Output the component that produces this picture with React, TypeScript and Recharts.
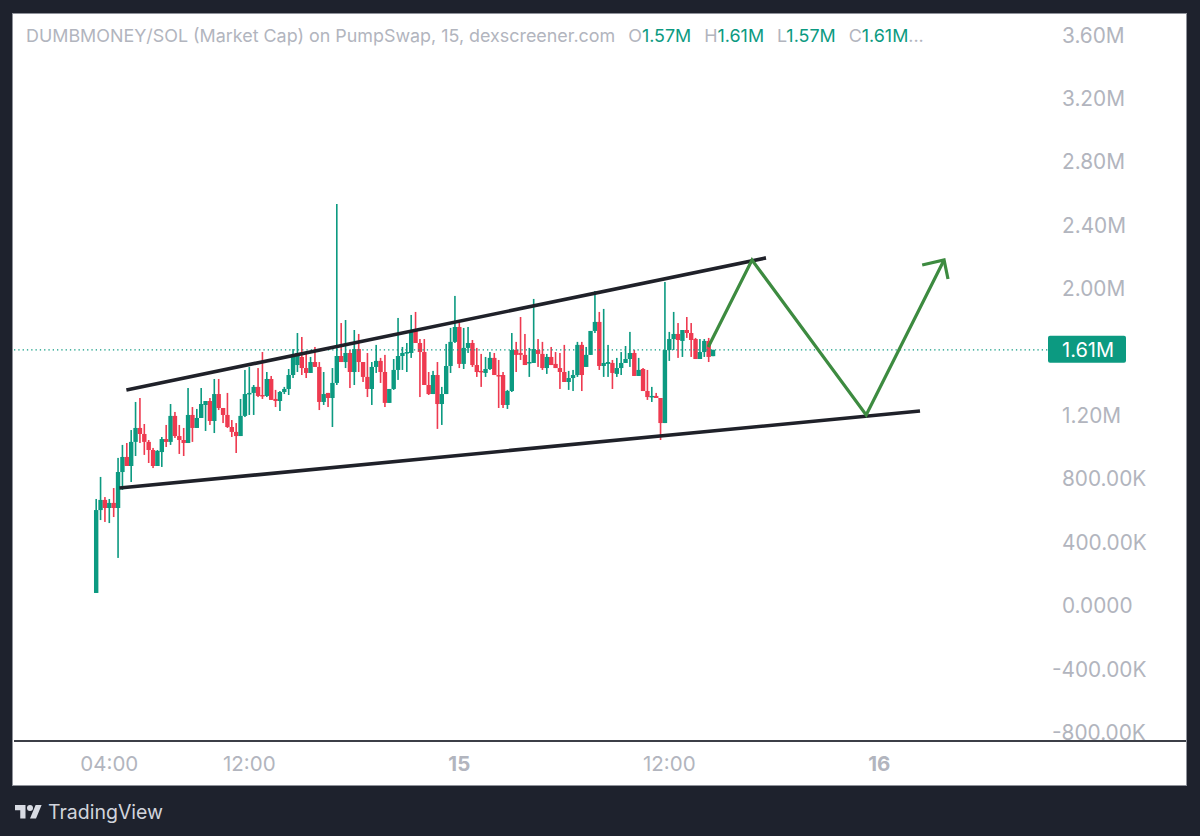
import React from 'react';
import { ComposedChart, Bar, Line, XAxis, YAxis, ReferenceLine } from 'recharts';

// Candle values in millions, 15 minute bars
const opens = [
  0.076, 0.599, 0.663, 0.612, 0.644, 0.612, 0.839, 0.934, 0.877, 1.029,
  1.117, 1.079, 1.029, 0.978, 0.877, 0.965, 1.047, 1.029, 1.193, 1.066,
  1.041, 1.022, 1.199, 1.117, 1.180, 1.262, 1.287, 1.161, 1.331, 1.243,
  1.199, 1.123, 1.092, 1.066, 1.193, 1.331, 1.338, 1.376, 1.325, 1.319,
  1.426, 1.300, 1.287, 1.344, 1.363, 1.451, 1.514, 1.565, 1.495, 1.464,
  1.533, 1.502, 1.281, 1.338, 1.306, 1.401, 1.571, 1.533, 1.590, 1.470,
  1.615, 1.533, 1.439, 1.363, 1.502, 1.540, 1.470, 1.275, 1.363, 1.483,
  1.571, 1.590, 1.590, 1.729, 1.653, 1.596, 1.388, 1.331, 1.451, 1.268,
  1.331, 1.508, 1.660, 1.754, 1.521, 1.622, 1.653, 1.514, 1.477, 1.464,
  1.489, 1.559, 1.451, 1.451, 1.262, 1.350, 1.609, 1.590, 1.578, 1.527,
  1.527, 1.609, 1.584, 1.495, 1.565, 1.521, 1.495, 1.470, 1.407, 1.432,
  1.451, 1.641, 1.502, 1.578, 1.729, 1.786, 1.508, 1.521, 1.527, 1.458,
  1.495, 1.527, 1.552, 1.590, 1.445, 1.489, 1.350, 1.312, 1.319, 1.306,
  1.148, 1.609, 1.678, 1.710, 1.666, 1.735, 1.716, 1.678, 1.552, 1.596,
  1.666, 1.570,
];
const closes = [
  0.599, 0.663, 0.612, 0.644, 0.612, 0.839, 0.934, 0.877, 1.029, 1.117,
  1.079, 1.029, 0.978, 0.877, 0.972, 1.047, 1.029, 1.193, 1.066, 1.041,
  1.022, 1.199, 1.117, 1.180, 1.268, 1.287, 1.161, 1.331, 1.243, 1.199,
  1.123, 1.092, 1.066, 1.193, 1.331, 1.338, 1.376, 1.319, 1.319, 1.426,
  1.294, 1.287, 1.344, 1.363, 1.451, 1.571, 1.590, 1.495, 1.464, 1.533,
  1.502, 1.281, 1.331, 1.306, 1.401, 1.571, 1.533, 1.590, 1.470, 1.615,
  1.533, 1.439, 1.363, 1.502, 1.540, 1.470, 1.275, 1.363, 1.483, 1.571,
  1.590, 1.596, 1.729, 1.653, 1.596, 1.388, 1.331, 1.451, 1.268, 1.331,
  1.508, 1.660, 1.754, 1.521, 1.622, 1.653, 1.514, 1.470, 1.470, 1.489,
  1.559, 1.451, 1.445, 1.262, 1.350, 1.609, 1.578, 1.578, 1.514, 1.533,
  1.615, 1.584, 1.495, 1.565, 1.514, 1.495, 1.470, 1.407, 1.432, 1.451,
  1.641, 1.451, 1.578, 1.729, 1.786, 1.508, 1.527, 1.533, 1.464, 1.495,
  1.527, 1.552, 1.590, 1.445, 1.483, 1.350, 1.312, 1.319, 1.306, 1.148,
  1.609, 1.678, 1.710, 1.672, 1.735, 1.716, 1.672, 1.552, 1.596, 1.666,
  1.565, 1.610,
];
const highs = [
  0.669, 0.808, 0.681, 0.669, 0.738, 0.928, 1.010, 1.022, 1.104, 1.281,
  1.306, 1.142, 1.041, 0.991, 0.978, 1.060, 1.136, 1.268, 1.218, 1.136,
  1.117, 1.369, 1.249, 1.237, 1.369, 1.287, 1.306, 1.426, 1.426, 1.243,
  1.338, 1.167, 1.148, 1.300, 1.483, 1.502, 1.388, 1.495, 1.596, 1.470,
  1.445, 1.357, 1.350, 1.376, 1.489, 1.615, 1.716, 1.691, 1.590, 1.565,
  1.628, 1.533, 1.470, 1.338, 1.495, 2.530, 1.779, 1.798, 1.609, 1.735,
  1.710, 1.533, 1.590, 1.533, 1.641, 1.559, 1.578, 1.363, 1.552, 1.811,
  1.628, 1.653, 1.830, 1.849, 1.678, 1.678, 1.470, 1.477, 1.533, 1.376,
  1.647, 1.748, 1.950, 1.779, 1.748, 1.754, 1.672, 1.622, 1.584, 1.565,
  1.596, 1.590, 1.546, 1.470, 1.357, 1.716, 1.660, 1.817, 1.710, 1.622,
  1.931, 1.678, 1.660, 1.584, 1.628, 1.596, 1.590, 1.641, 1.477, 1.483,
  1.660, 1.660, 1.628, 1.729, 1.981, 1.849, 1.868, 1.641, 1.546, 1.559,
  1.596, 1.634, 1.723, 1.609, 1.559, 1.495, 1.483, 1.376, 1.338, 1.306,
  2.038, 1.723, 1.849, 1.779, 1.735, 1.817, 1.779, 1.685, 1.678, 1.678,
  1.685, 1.610,
];
const lows = [
  0.076, 0.536, 0.524, 0.517, 0.555, 0.297, 0.726, 0.877, 0.776, 0.940,
  1.022, 0.947, 0.896, 0.864, 0.877, 0.871, 0.997, 1.010, 1.054, 0.953,
  0.940, 1.022, 1.029, 1.117, 1.180, 1.098, 1.136, 1.085, 1.230, 1.148,
  1.117, 1.060, 0.959, 1.066, 1.186, 1.199, 1.199, 1.312, 1.300, 1.312,
  1.294, 1.249, 1.224, 1.331, 1.325, 1.432, 1.470, 1.451, 1.432, 1.464,
  1.502, 1.230, 1.262, 1.249, 1.123, 1.388, 1.533, 1.495, 1.369, 1.388,
  1.470, 1.407, 1.312, 1.262, 1.464, 1.401, 1.249, 1.275, 1.357, 1.420,
  1.483, 1.470, 1.559, 1.653, 1.312, 1.388, 1.325, 1.331, 1.111, 1.136,
  1.331, 1.464, 1.653, 1.495, 1.489, 1.590, 1.502, 1.439, 1.376, 1.439,
  1.483, 1.451, 1.243, 1.243, 1.237, 1.344, 1.470, 1.546, 1.514, 1.439,
  1.527, 1.502, 1.483, 1.458, 1.514, 1.495, 1.363, 1.407, 1.357, 1.350,
  1.439, 1.350, 1.502, 1.578, 1.716, 1.483, 1.439, 1.439, 1.363, 1.439,
  1.451, 1.527, 1.502, 1.445, 1.445, 1.350, 1.294, 1.281, 1.306, 1.041,
  1.148, 1.540, 1.609, 1.559, 1.565, 1.685, 1.565, 1.552, 1.552, 1.565,
  1.533, 1.570,
];

const priceTicks = [3.6, 3.2, 2.8, 2.4, 2.0, 1.61, 1.2, 0.8, 0.4, 0, -0.4, -0.8];
const priceLabels = ['3.60M', '3.20M', '2.80M', '2.40M', '2.00M', '1.61M', '1.20M', '800.00K', '400.00K', '0.0000', '-400.00K', '-800.00K'];
const lastPrice = 1.61;

const timeTicks = [3, 35, 83, 131, 179];
const timeLabels = ['04:00', '12:00', '15', '12:00', '16'];
const boldTimes = ['15', '16'];

const upperTrend = [{ i: 6.9, v: 1.357 }, { i: 153.1, v: 2.19 }];
const lowerTrend = [{ i: 5.3, v: 0.738 }, { i: 188.3, v: 1.224 }];
const forecastPath = [
  { i: 139.9, v: 1.628 },
  { i: 149.9, v: 2.177 },
  { i: 176, v: 1.199 },
  { i: 193.8, v: 2.177 },
];
const arrowHead = [
  { i: 188.8, v: 2.145 },
  { i: 193.8, v: 2.177 },
  { i: 194.7, v: 2.057 },
];

const candles = opens.map((o, i) => ({
  i,
  open: o,
  close: closes[i],
  high: highs[i],
  low: lows[i],
  range: [lows[i], highs[i]],
}));

const GREEN = '#0c9a81';
const RED = '#ee3a50';
const GREY = '#b2b5be';
const FONT = 'Inter, "Noto Sans", sans-serif';
const DARK = '#1e222d';
const INK = '#1f2129';
const ARROW = '#3d8b40';

const Candle = (props: any) => {
  const { x, y, width, height, payload } = props;
  const { open, close, high, low } = payload;
  const perUnit = height / Math.max(high - low, 1e-6);
  const color = close >= open ? GREEN : RED;
  const top = y + (high - Math.max(open, close)) * perUnit;
  const bodyH = Math.max(Math.abs(open - close) * perUnit, 1.5);
  const cx = x + width / 2;
  return (
    <g>
      <rect x={cx - 0.8} y={y} width={1.6} height={Math.max(height, 1)} fill={color} />
      <rect x={cx - 2.2} y={top} width={4.4} height={bodyH} fill={color} />
    </g>
  );
};

const PriceTick = (props: any) => {
  const { y, payload, index } = props;
  const label = priceLabels[priceTicks.indexOf(payload.value)] ?? priceLabels[index];
  const left = props.x - 118;
  if (payload.value === lastPrice) {
    return (
      <g>
        <rect x={left - 14} y={y - 14} width={78} height={27} rx={2} fill={GREEN} />
        <text x={left} y={y + 0.5} dy="0.35em" fill="#ffffff" fontSize={20} fontFamily={FONT}>{label}</text>
      </g>
    );
  }
  return (
    <text x={label.startsWith('-') ? left - 10 : left} y={y + 1} dy="0.35em" fill={GREY} fontSize={20.8} fontFamily={FONT}>
      {label}
    </text>
  );
};

const TimeTick = (props: any) => {
  const { x, y, payload } = props;
  const label = timeLabels[timeTicks.indexOf(payload.value)];
  return (
    <text
      x={x}
      y={y}
      dy="0.35em"
      textAnchor="middle"
      fill={GREY}
      fontSize={20.5}
      fontWeight={boldTimes.includes(label) ? 700 : 400}
      fontFamily={FONT}
    >
      {label}
    </text>
  );
};

const Ohlc = ({ k, v }: { k: string; v: string }) => (
  <span style={{ marginLeft: 13 }}>
    {k}
    <span style={{ color: GREEN }}>{v}</span>
  </span>
);

export default function App() {
  return (
    <div style={{ position: 'absolute', left: 0, top: 0, width: 1200, height: 836, background: DARK, overflow: 'hidden' }}>
      <div style={{ position: 'absolute', left: 13, top: 14, width: 1173, height: 771, background: '#ffffff', boxShadow: '0 0 0 1px #8f929a' }} />
      <div style={{ position: 'absolute', left: 0, top: 0 }}>
        <ComposedChart
          width={1200}
          height={836}
          data={candles}
          margin={{ top: 14, right: 14, bottom: 0, left: 14 }}
        >
          <XAxis
            dataKey="i"
            type="number"
            domain={[-18.79, 249.1]}
            allowDataOverflow
            ticks={timeTicks}
            interval={0}
            tick={<TimeTick />}
            tickLine={false}
            tickMargin={17}
            axisLine={{ stroke: '#3c3f47', strokeWidth: 2 }}
            height={95}
          />
          <YAxis
            type="number"
            orientation="right"
            mirror
            domain={[-0.858, 3.7287]}
            allowDataOverflow
            ticks={priceTicks}
            interval={0}
            tick={<PriceTick />}
            tickLine={false}
            axisLine={false}
            tickMargin={0}
            width={60}
          />
          <ReferenceLine
            segment={[{ x: -18.79, y: lastPrice }, { x: 217.6, y: lastPrice }]}
            stroke={GREEN}
            strokeWidth={1.3}
            strokeDasharray="1.3 3"
          />
          <Bar dataKey="range" barSize={4} shape={<Candle />} isAnimationActive={false} />
          <Line data={upperTrend} dataKey="v" stroke={INK} strokeWidth={3.6} dot={false} legendType="none" isAnimationActive={false} />
          <Line data={lowerTrend} dataKey="v" stroke={INK} strokeWidth={3.6} dot={false} legendType="none" isAnimationActive={false} />
          <Line data={forecastPath} dataKey="v" type="linear" stroke={ARROW} strokeWidth={3.2} dot={false} legendType="none" isAnimationActive={false} />
          <Line data={arrowHead} dataKey="v" type="linear" stroke={ARROW} strokeWidth={3.2} dot={false} legendType="none" isAnimationActive={false} />
        </ComposedChart>
      </div>
      <div
        style={{
          position: 'absolute',
          left: 26,
          top: 25,
          height: 22,
          lineHeight: '22px',
          fontFamily: FONT,
          fontSize: 17.9,
          color: GREY,
          whiteSpace: 'nowrap',
        }}
      >
        DUMBMONEY/SOL (Market Cap) on PumpSwap, 15, dexscreener.com
        <Ohlc k="O" v="1.57M" />
        <Ohlc k="H" v="1.61M" />
        <Ohlc k="L" v="1.57M" />
        <Ohlc k="C" v="1.61M" />
        <span>...</span>
      </div>
      <svg style={{ position: 'absolute', left: 15, top: 802 }} width="27" height="21" viewBox="0 0 36 28">
        <path d="M14 22H7V11H0V4h14v18zM28 22h-8l7.5-18h8L28 22z" fill="#d8dbe3" />
        <circle cx="20" cy="8" r="4" fill="#d8dbe3" />
      </svg>
      <div
        style={{
          position: 'absolute',
          left: 48,
          top: 800,
          lineHeight: '24px',
          fontFamily: FONT,
          fontSize: 19.5,
          color: '#d1d4dc',
          whiteSpace: 'nowrap',
        }}
      >
        TradingView
      </div>
    </div>
  );
}
